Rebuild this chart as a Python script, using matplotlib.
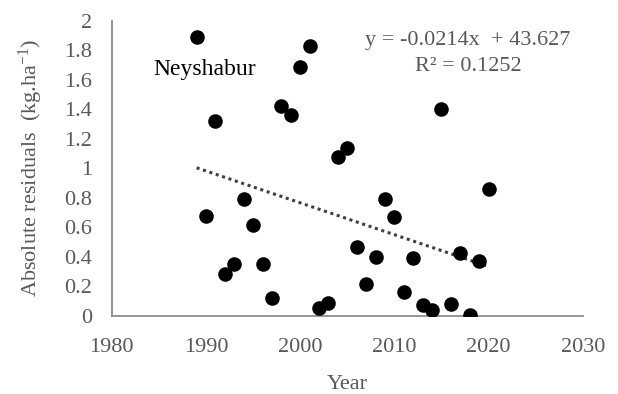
import numpy as np
import matplotlib
matplotlib.use("Agg")
import matplotlib.pyplot as plt

years = [1989, 1990, 1991, 1992, 1993, 1994, 1995, 1996, 1997, 1998, 1999, 2000,
         2001, 2002, 2003, 2004, 2005, 2006, 2007, 2008, 2009, 2010, 2011, 2012,
         2013, 2014, 2015, 2016, 2017, 2018, 2019, 2020]
residuals = [1.89, 0.68, 1.32, 0.285, 0.35, 0.79, 0.62, 0.35, 0.12, 1.42, 1.36, 1.69,
             1.83, 0.055, 0.09, 1.08, 1.14, 0.47, 0.22, 0.40, 0.79, 0.67, 0.16, 0.39,
             0.075, 0.04, 1.40, 0.08, 0.43, 0.01, 0.37, 0.86]
xticks = [1980, 1990, 2000, 2010, 2020, 2030]
yticks = [0, 0.2, 0.4, 0.6, 0.8, 1, 1.2, 1.4, 1.6, 1.8, 2]
ytick_labels = ["0", "0.2", "0.4", "0.6", "0.8", "1", "1.2", "1.4", "1.6", "1.8", "2"]

plt.rcParams['font.family'] = ['Liberation Serif', 'DejaVu Serif']
plt.rcParams['mathtext.fontset'] = 'custom'
plt.rcParams['mathtext.rm'] = 'Liberation Serif'
plt.rcParams['mathtext.it'] = 'Liberation Serif:italic'
plt.rcParams['mathtext.bf'] = 'Liberation Serif:bold'
gray = '#595959'

fig = plt.figure(figsize=(6.18, 3.94), dpi=100)
ax = fig.add_axes([0.181, 0.198, 0.762, 0.749])

ax.scatter(years, residuals, s=110, color='black', zorder=3, linewidths=0)

coef = np.polyfit(years, residuals, 1)
xs = np.array([years[0], years[-1]])
ax.plot(xs, np.polyval(coef, xs), linestyle=(0, (1, 1.2)), color='#404040', lw=2.2, zorder=2)

ax.set_xlim(1980, 2030)
ax.set_ylim(0, 2)
ax.set_xticks(xticks)
ax.set_yticks(yticks)
ax.set_yticklabels(ytick_labels)
ax.tick_params(length=0, labelsize=16, colors=gray)
ax.tick_params(axis='y', pad=14)
ax.tick_params(axis='x', pad=16)

for s in ['top', 'right']:
    ax.spines[s].set_visible(False)
for s in ['left', 'bottom']:
    ax.spines[s].set_color('#8c8c8c')
    ax.spines[s].set_linewidth(1.3)

ax.set_xlabel('Year', fontsize=16, color=gray, labelpad=13)
ax.set_ylabel(r'Absolute residuals  (kg.ha$^{\mathrm{-1}}$)', fontsize=16, color=gray, labelpad=14)

ax.text(1984.4, 1.67, 'Neyshabur', fontsize=17, color='black', ha='left', va='center')
ax.text(2017.8, 1.87, 'y = -0.0214x  + 43.627', fontsize=16, color=gray, ha='center', va='center')
ax.text(2017.8, 1.69, 'R² = 0.1252', fontsize=16, color=gray, ha='center', va='center')

fig.savefig('out.png', dpi=100)
